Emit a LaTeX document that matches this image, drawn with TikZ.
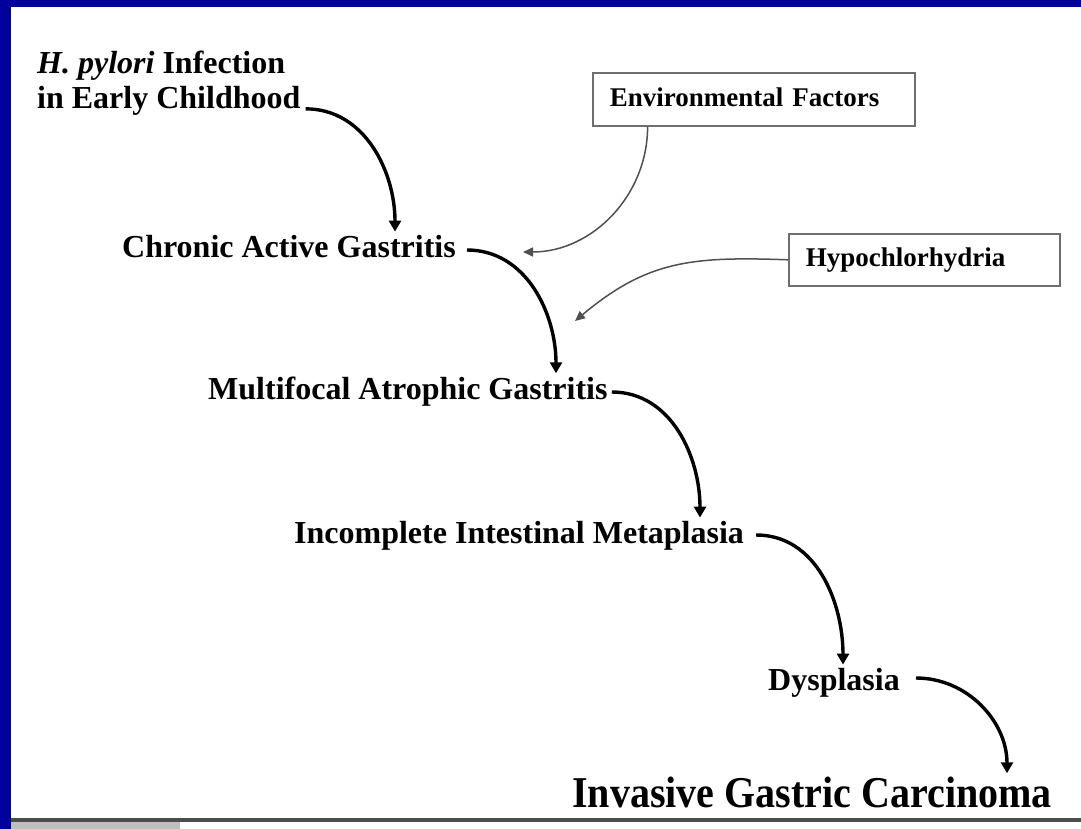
\documentclass[tikz,border=0pt]{standalone}
\usepackage{fontspec}
\setmainfont{Liberation Serif}
\usetikzlibrary{arrows.meta}
\definecolor{frameblue}{RGB}{0,0,158}
\definecolor{boxgray}{RGB}{110,110,110}
\definecolor{thingray}{RGB}{80,80,80}
\tikzset{
  stagetext/.style={anchor=base west, inner sep=0pt, font=\fontsize{32}{35}\selectfont\bfseries},
  factorbox/.style={draw=boxgray, line width=1.6pt, anchor=north west, inner xsep=17pt, inner ysep=0pt,
     align=left, text height=20pt, text depth=6pt, font=\fontsize{27}{30}\selectfont\bfseries},
  mainarrow/.style={line width=3.4pt, black, -{Triangle[length=11pt,width=12pt]}},
  factorarrow/.style={line width=1.5pt, thingray, -{Triangle[length=10pt,width=9pt]}}
}
\begin{document}
\begin{tikzpicture}[x=1pt,y=1pt]
\useasboundingbox (0,0) rectangle (1081,-829);
% frame
\fill[frameblue] (0,0) rectangle (1081,-829);
\fill[white] (11,-7) rectangle (1081,-818);
\fill[black!70] (11,-818) rectangle (1081,-822);
\fill[white] (11,-822) rectangle (1081,-829);
\fill[black!25] (11,-822) rectangle (180,-829);

% stage texts
\node[anchor=north west, inner sep=0pt, align=left, font=\fontsize{32}{35}\selectfont\bfseries] (hp) at (37,-51)
  {\textit{H. pylori} Infection\\in Early Childhood};
\node[stagetext] (cag) at (122,-257) {Chronic Active Gastritis};
\node[stagetext] (mag) at (208,-399) {Multifocal Atrophic Gastritis};
\node[stagetext] (iim) at (294,-543) {Incomplete Intestinal Metaplasia};
\node[stagetext] (dys) at (768,-690) {Dysplasia};
\node[anchor=base west, inner sep=0pt, font=\fontsize{44}{48}\selectfont\bfseries] (igc) at (572,-807)
  {\scalebox{0.91}[1]{Invasive Gastric Carcinoma}};

% factor boxes
\node[factorbox, minimum width=322pt, minimum height=53pt, text width=288pt] (env) at (592,-72) {Environmental Factors};
\node[factorbox, minimum width=271pt, minimum height=52pt, text width=237pt] (hypo) at (788,-233) {Hypochlorhydria};

% end points of factor arrows
\coordinate (envend) at (523,-252);
\coordinate (hypoend) at (575,-321);

% main arrows
\draw[mainarrow] ([shift={(5,7)}]hp.south east) to[out=0,in=90] ([shift={(273,3)}]cag.north west);
\draw[mainarrow] ([shift={(11,7)}]cag.base east) to[out=0,in=90] ([shift={(348,3)}]mag.north west);
\draw[mainarrow] ([shift={(4,7)}]mag.base east) to[out=0,in=90] ([shift={(406,3)}]iim.north west);
\draw[mainarrow] ([shift={(12,8)}]iim.base east) to[out=0,in=90] ([shift={(75,3)}]dys.north west);
\draw[mainarrow] ([shift={(16,12)}]dys.base east) to[out=0,in=90] ([shift={(435,3)}]igc.north west);

% factor arrows
\draw[factorarrow] ([xshift=-268pt]env.south east) to[out=-90,in=0] (envend);
\draw[factorarrow] (hypo.west) to[out=178,in=40,looseness=1.1] (hypoend);
\end{tikzpicture}
\end{document}
